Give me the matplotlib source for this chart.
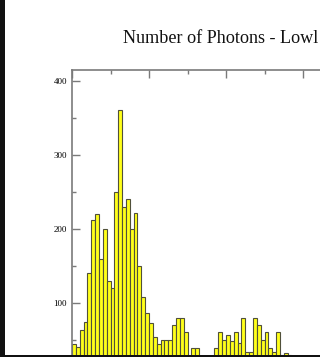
import numpy as np
import matplotlib
matplotlib.use("Agg")
import matplotlib.pyplot as plt
from matplotlib.patches import Rectangle
from matplotlib.ticker import MultipleLocator

# contagem por bin (largura 1), a partir de x = 0
bin_inicio = np.arange(0, 60)
contagens = [
    45, 40, 63, 75, 140, 212, 220, 160, 200, 130,
    120, 250, 361, 230, 240, 200, 222, 150, 108, 86,
    73, 54, 45, 50, 50, 50, 70, 80, 80, 61,
    25, 39, 39, 22, 20, 22, 28, 39, 61, 50,
    57, 48, 61, 46, 80, 34, 34, 80, 70, 50,
    61, 39, 34, 61, 30, 32, 30, 12, 8, 5,
]
y_ticks = [100, 200, 300, 400]
titulo = "Number of Photons - Lowl"

COR_BARRA = "#ffff1a"
COR_BORDA = "#50503a"
COR_EIXO = "#7a7a7a"


def plt_histograma(ax, x, y):
    """Desenha o histograma com barras amarelas e borda escura"""
    ax.bar(x, y, width=1.0, align="edge", color=COR_BARRA,
           edgecolor=COR_BORDA, linewidth=0.8)


def main():
    plt.rcParams["font.family"] = ["Liberation Serif", "DejaVu Serif"]
    fig = plt.figure(figsize=(3.2, 3.57), dpi=100)
    fig.patch.set_facecolor("white")

    # eixo: topo em 70 px, zero abaixo da borda da figura
    ax = fig.add_axes([72 / 320, 1 - 377 / 357, 385 / 320, 307 / 357])
    plt_histograma(ax, bin_inicio, contagens)

    ax.set_xlim(0, 100)
    ax.set_ylim(0, 415)
    ax.set_yticks(y_ticks)
    ax.set_yticklabels([str(v) for v in y_ticks], fontsize=6.5)
    ax.yaxis.set_minor_locator(MultipleLocator(50))
    ax.xaxis.set_major_locator(MultipleLocator(20))
    ax.xaxis.set_minor_locator(MultipleLocator(10))

    ax.tick_params(axis="both", which="both", direction="in", color=COR_EIXO,
                   width=1.0, top=True, bottom=False, labelbottom=False)
    ax.tick_params(which="major", length=6)
    ax.tick_params(which="minor", length=3)
    ax.tick_params(axis="y", pad=3.5)
    for lado in ["left", "top"]:
        ax.spines[lado].set_color(COR_EIXO)
        ax.spines[lado].set_linewidth(1.2)
    for lado in ["right", "bottom"]:
        ax.spines[lado].set_visible(False)

    fig.text(123 / 320, 1 - 43 / 357, titulo, fontsize=13.1,
             ha="left", va="baseline", color="#111111")

    # moldura preta: faixa na esquerda e linha no rodapé
    fig.patches.append(Rectangle((0, 0), 5 / 320, 1, transform=fig.transFigure,
                                 facecolor="#111111", edgecolor="none", zorder=5))
    fig.patches.append(Rectangle((0, 0), 1, 2 / 357, transform=fig.transFigure,
                                 facecolor="#111111", edgecolor="none", zorder=5))

    fig.savefig("out.png", dpi=100)


if __name__ == "__main__":
    main()
